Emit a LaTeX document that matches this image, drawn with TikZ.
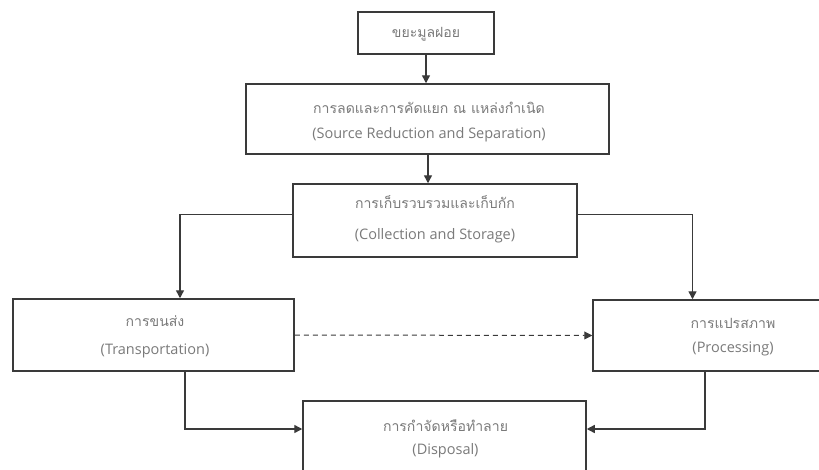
\documentclass[tikz,border=0pt]{standalone}
\usepackage{fontspec}
\setmainfont{Open Sans}
\newfontfamily\thaifont[Script=Thai,Scale=0.97]{Loma}
\usetikzlibrary{arrows.meta}
\definecolor{txtgray}{HTML}{7A7A7A}
\definecolor{linegray}{HTML}{3A3A3A}
\tikzset{
  box/.style={draw=linegray, line width=1.5pt, fill=white, inner sep=0pt, align=center,
    text=txtgray, font=\fontsize{14.5}{25}\selectfont},
  lbl/.style={text=txtgray, align=center, inner sep=0pt},
  conn/.style={draw=linegray, line width=1.4pt, -{Triangle[length=8pt,width=8pt]}},
  dconn/.style={conn, dashed, dash pattern=on 5pt off 4pt, line width=1pt},
}
\begin{document}
\begin{tikzpicture}[x=1pt,y=-1pt]
\useasboundingbox (0,0) rectangle (819,469);
\clip (0,0) rectangle (819,469);
\node[box, minimum width=136pt, minimum height=42pt] (b1) at (426,33) {};
\node[lbl, font=\fontsize{14.5}{25}\selectfont] (t1) at (426,34) {{\thaifont ขยะมูลฝอย}};
\node[box, minimum width=363pt, minimum height=70pt] (b2) at (427.5,119) {};
\node[lbl, font=\fontsize{14.5}{25}\selectfont] (t2) at (429,122) {{\thaifont การลดและการคัดแยก ณ แหล่งกำเนิด}\\(Source Reduction and Separation)};
\node[box, minimum width=284pt, minimum height=73pt] (b3) at (435,220.5) {};
\node[lbl, font=\fontsize{14.5}{31}\selectfont] (t3) at (435,219) {{\thaifont การเก็บรวบรวมและเก็บกัก}\\(Collection and Storage)};
\node[box, minimum width=281pt, minimum height=72pt] (b4) at (153.5,335) {};
\node[lbl, font=\fontsize{14.5}{28}\selectfont] (t4) at (155,337) {{\thaifont การขนส่ง}\\(Transportation)};
\node[box, minimum width=237pt, minimum height=71pt] (b5) at (711.5,335.5) {};
\node[lbl, font=\fontsize{14.5}{24}\selectfont] (t5) at (733,337) {{\thaifont การแปรสภาพ}\\(Processing)};
\node[box, minimum width=283pt, minimum height=79pt] (b6) at (444.5,440.5) {};
\node[lbl, font=\fontsize{14.5}{23}\selectfont] (t6) at (445.5,438.5) {{\thaifont การกำจัดหรือทำลาย}\\(Disposal)};

\draw[conn] (b1.south) -- (b1.south |- b2.north);
\draw[conn] ([xshift=-7pt]b3.north |- b2.south) -- ([xshift=-7pt]b3.north);
\draw[conn] ([yshift=6pt]b3.west) -| ([xshift=26.5pt]b4.north);
\draw[conn] ([yshift=6pt]b3.east) -| ([xshift=-19pt]b5.north);
\draw[dconn] (b4.east) -- (b5.west);
\draw[conn] ([xshift=31.5pt]b4.south) |- ([yshift=11.5pt]b6.west);
\draw[conn] ([xshift=-6.5pt]b5.south) |- ([yshift=11.5pt]b6.east);
\end{tikzpicture}
\end{document}
